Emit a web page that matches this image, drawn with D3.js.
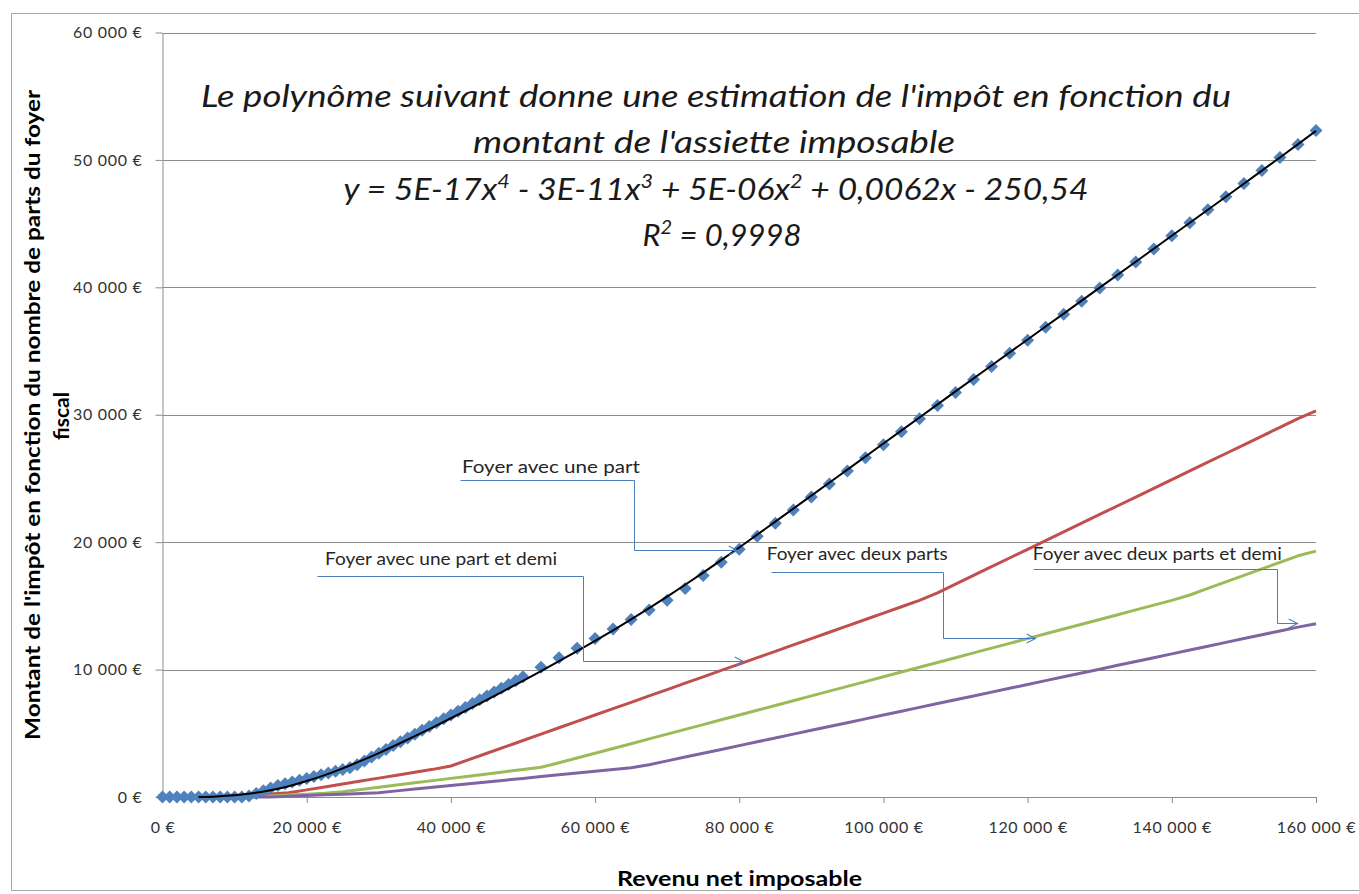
<!DOCTYPE html>
<html>
<head>
<meta charset="utf-8">
<script src="https://cdn.jsdelivr.net/npm/d3@7"></script>
<style>
  body { margin: 0; background: #fff; }
  svg text { font-family: Lato, "Open Sans", sans-serif; }
</style>
</head>
<body>
<div id="container"></div>
<script>
// revenu net imposable (markers of the "une part" series)
const revenus = [0,1000,2000,3000,4000,5000,6000,7000,8000,9000,10000,11000,12000,13000,14000,15000,16000,17000,18000,19000,
  20000,21000,22000,23000,24000,25000,26000,27000,28000,29000,30000,31000,32000,33000,34000,35000,36000,37000,38000,39000,
  40000,41000,42000,43000,44000,45000,46000,47000,48000,49000,50000,
  52500,55000,57500,60000,62500,65000,67500,70000,72500,75000,77500,80000,82500,85000,87500,90000,92500,95000,97500,100000,
  102500,105000,107500,110000,112500,115000,117500,120000,122500,125000,127500,130000,132500,135000,137500,140000,142500,145000,
  147500,150000,152500,155000,157500,160000];
const impotUnePart = [0,0,0,0,0,0,0,0,0,0,0,0,73,282,492,702,901,1041,1181,1321,
  1461,1601,1741,1881,2021,2161,2301,2533,2833,3133,3433,3733,4033,4333,4633,4933,5233,5533,5833,6133,
  6433,6733,7033,7333,7633,7933,8233,8533,8833,9133,9433,
  10183,10933,11683,12433,13183,13933,14683,15433,16367,17392,18417,19442,20467,21492,22517,23542,24567,25592,26617,27642,
  28667,29692,30717,31742,32767,33792,34817,35842,36867,37892,38917,39942,40967,41992,43017,44042,45067,46092,
  47117,48142,49167,50192,51217,52300];

// polynomial trend line (black)
const revenusTendance = [5000,7500,10000,12500,15000,17500,20000,22500,25000,27500,30000,32500,35000,37500,40000,42500,45000,47500,50000,
  52500,55000,57500,60000,62500,65000,67500,70000,72500,75000,77500,80000,85000,90000,95000,100000,105000,110000,115000,120000,
  125000,130000,135000,140000,145000,150000,155000,160000];
const impotTendance = [0,40,130,290,530,850,1250,1720,2250,2830,3450,4100,4775,5470,6180,6900,7630,8370,9120,
  9880,10655,11445,12255,13085,13940,14820,15725,16655,17610,18585,19580,21610,23650,25695,27740,29785,31830,33870,35905,
  37940,39975,42010,44045,46085,48130,50185,52280];

// other households (lines)
const revenusParts = [0,2500,5000,7500,10000,12500,15000,17500,20000,22500,25000,27500,30000,32500,35000,37500,40000,42500,45000,47500,
  50000,52500,55000,57500,60000,62500,65000,67500,70000,72500,75000,77500,80000,82500,85000,87500,90000,92500,95000,97500,
  100000,102500,105000,107500,110000,112500,115000,117500,120000,122500,125000,127500,130000,132500,135000,137500,140000,142500,
  145000,147500,150000,152500,155000,157500,160000];
const impotUnePartEtDemi = [0,0,0,0,40,130,230,330,560,790,1020,1250,1480,1710,1940,2170,2433,2933,3433,3933,
  4433,4933,5433,5933,6433,6933,7433,7933,8433,8933,9433,9933,10433,10933,11433,11933,12433,12933,13433,13933,
  14433,14933,15433,16025,16708,17392,18075,18758,19442,20125,20808,21492,22175,22858,23542,24225,24908,25592,
  26275,26958,27642,28325,29008,29692,30300];
const impotDeuxParts = [0,0,0,0,0,16,85,153,222,291,411,586,761,936,1111,1286,1461,1636,1811,1986,
  2161,2336,2683,3058,3433,3808,4183,4558,4933,5308,5683,6058,6433,6808,7183,7558,7933,8308,8683,9058,
  9433,9808,10183,10558,10933,11308,11683,12058,12433,12808,13183,13558,13933,14308,14683,15058,15433,15854,
  16367,16879,17392,17904,18417,18929,19300];
const impotDeuxPartsEtDemi = [0,0,0,0,0,0,2,57,112,167,222,277,341,481,621,761,901,1041,1181,1321,
  1461,1601,1741,1881,2021,2161,2301,2533,2833,3133,3433,3733,4033,4333,4633,4933,5233,5533,5833,6133,
  6433,6733,7033,7333,7633,7933,8233,8533,8833,9133,9433,9733,10033,10333,10633,10933,11233,11533,
  11833,12133,12433,12733,13033,13333,13600];

const yTicks = [0,10000,20000,30000,40000,50000,60000];
const xTicks = [0,20000,40000,60000,80000,100000,120000,140000,160000];

const titre = [
  "Le polynôme suivant donne une estimation de l'impôt en fonction du",
  "montant de l'assiette imposable"
];
const yTitre = ["Montant de l'impôt en fonction du nombre de parts du foyer", "fiscal"];
const xTitre = "Revenu net imposable";

// callouts, in data units: text anchor, then the elbow path ending on the arrow tip
const callouts = [
  {label:"Foyer avec une part", at:[41540,25460], len:178,
   path:[[41260,24880],[65400,24880],[65400,19385],[79680,19385]]},
  {label:"Foyer avec une part et demi", at:[22540,18210], len:232,
   path:[[21430,17340],[58320,17340],[58320,10670],[80510,10670]]},
  {label:"Foyer avec deux parts", at:[83820,18600], len:181,
   path:[[84370,17660],[108240,17660],[108240,12480],[121000,12480]]},
  {label:"Foyer avec deux parts et demi", at:[120720,18600], len:249,
   path:[[120720,17890],[154570,17890],[154570,13660],[157340,13660]]}
];

const width = 1359, height = 894;
const svg = d3.select("#container")
  .append("svg")
    .attr("width", width)
    .attr("height", height);

const defs = svg.append("defs");
defs.append("marker")
    .attr("id", "fleche")
    .attr("viewBox", "0 0 10 10")
    .attr("refX", 9).attr("refY", 5)
    .attr("markerWidth", 11).attr("markerHeight", 11)
    .attr("markerUnits", "userSpaceOnUse")
    .attr("orient", "auto")
  .append("path")
    .attr("d", "M1,1L9,5L1,9")
    .attr("fill", "none")
    .attr("stroke", "#4A7EBB")
    .attr("stroke-width", 1);

// chart area border
svg.append("rect")
    .attr("x", 11.5).attr("y", 13.5)
    .attr("width", 1400).attr("height", 877)
    .attr("fill", "none")
    .attr("stroke", "#a6a6a6");

const x = d3.scaleLinear().domain([0, 160000]).range([162.5, 1316]);
const y = d3.scaleLinear().domain([0, 60000]).range([797, 32.5]);

const euro = d3.formatLocale({decimal: ",", thousands: "\u00a0", grouping: [3], currency: ["", "\u00a0€"]}).format("$,.0f");

// gridlines
svg.append("g")
    .attr("stroke", "#8c8c8c")
    .attr("stroke-width", 1)
  .selectAll("line")
  .data(yTicks.slice(1))
  .join("line")
    .attr("x1", x(0)).attr("x2", x(160000))
    .attr("y1", d => Math.round(y(d)) + 0.5)
    .attr("y2", d => Math.round(y(d)) + 0.5);

const yAxis = svg.append("g")
    .attr("transform", "translate(" + x(0) + ",0)")
    .call(d3.axisLeft(y).tickValues(yTicks).tickSize(7).tickSizeOuter(0).tickPadding(13).tickFormat(euro));
const xAxis = svg.append("g")
    .attr("transform", "translate(0," + y(0) + ")")
    .call(d3.axisBottom(x).tickValues(xTicks).tickSize(6).tickSizeOuter(0).tickPadding(19).tickFormat(euro));
xAxis.selectAll(".tick line").filter(d => d === 0).remove();

[yAxis, xAxis].forEach(a => {
  a.select(".domain").attr("stroke", "#8c8c8c");
  a.selectAll(".tick line").attr("stroke", "#8c8c8c");
  a.selectAll(".tick text")
    .attr("fill", "#333")
    .style("font-size", "16px")
    .style("letter-spacing", "0.7px");
});

// household lines
const line = d3.line().x(d => x(d[0])).y(d => y(d[1]));
const series = [
  {values: impotUnePartEtDemi, color: "#C0504D"},
  {values: impotDeuxParts, color: "#9BBB59"},
  {values: impotDeuxPartsEtDemi, color: "#8064A2"}
];
svg.append("g")
    .attr("fill", "none")
    .attr("stroke-width", 3)
    .attr("stroke-linejoin", "round")
  .selectAll("path")
  .data(series)
  .join("path")
    .attr("stroke", d => d.color)
    .attr("d", d => line(revenusParts.map((r, i) => [r, d.values[i]])));

// une part: diamond markers
const r = 6.5;
svg.append("g")
    .attr("fill", "#4F81BD")
  .selectAll("path")
  .data(revenus.map((v, i) => [v, impotUnePart[i]]))
  .join("path")
    .attr("transform", d => "translate(" + x(d[0]) + "," + y(d[1]) + ")")
    .attr("d", "M0," + (-r) + "L" + r + ",0L0," + r + "L" + (-r) + ",0Z");

// trend
svg.append("path")
    .attr("fill", "none")
    .attr("stroke", "#000")
    .attr("stroke-width", 2)
    .attr("d", d3.line().curve(d3.curveMonotoneX).x(d => x(d[0])).y(d => y(d[1]))(revenusTendance.map((v, i) => [v, impotTendance[i]])));

// title (trend label)
const t = svg.append("g")
    .attr("fill", "#1a1a1a")
    .style("font-style", "italic")
    .style("font-size", "31px")
    .attr("text-anchor", "middle");
t.append("text").attr("x", 716).attr("y", 107).attr("textLength", 1030).attr("lengthAdjust", "spacingAndGlyphs").text(titre[0]);
t.append("text").attr("x", 714).attr("y", 153).attr("textLength", 482).attr("lengthAdjust", "spacingAndGlyphs").text(titre[1]);
const eq = t.append("text").attr("x", 716).attr("y", 200).attr("textLength", 745).attr("lengthAdjust", "spacingAndGlyphs");
[["y = 5E-17x", false], ["4", true], [" - 3E-11x", false], ["3", true], [" + 5E-06x", false], ["2", true], [" + 0,0062x - 250,54", false]]
  .forEach(p => {
    const s = eq.append("tspan").text(p[0]);
    if (p[1]) s.attr("baseline-shift", "super").style("font-size", "20px");
  });
const r2 = t.append("text").attr("x", 722).attr("y", 246);
r2.append("tspan").text("R");
r2.append("tspan").attr("baseline-shift", "super").style("font-size", "20px").text("2");
r2.append("tspan").text(" = 0,9998");

// axis titles
svg.append("text")
    .attr("transform", "translate(40,415) rotate(-90)")
    .attr("text-anchor", "middle")
    .attr("textLength", 650).attr("lengthAdjust", "spacingAndGlyphs")
    .style("font-size", "21px").style("font-weight", "bold")
    .text(yTitre[0]);
svg.append("text")
    .attr("transform", "translate(69,416) rotate(-90)")
    .attr("text-anchor", "middle")
    .style("font-size", "21px").style("font-weight", "bold")
    .text(yTitre[1]);
svg.append("text")
    .attr("x", 739.5).attr("y", 886)
    .attr("text-anchor", "middle")
    .attr("textLength", 245).attr("lengthAdjust", "spacingAndGlyphs")
    .style("font-size", "20px").style("font-weight", "bold")
    .text(xTitre);

// callouts
const c = svg.append("g");
c.selectAll("path")
  .data(callouts)
  .join("path")
    .attr("fill", "none")
    .attr("stroke", "#4A7EBB")
    .attr("stroke-width", 1)
    .attr("marker-end", "url(#fleche)")
    .attr("d", d => "M" + d.path.map(p => [Math.round(x(p[0])) + 0.5, Math.round(y(p[1])) + 0.5].join(",")).join("L"));
c.selectAll("text")
  .data(callouts)
  .join("text")
    .attr("x", d => x(d.at[0]))
    .attr("y", d => y(d.at[1]))
    .attr("textLength", d => d.len).attr("lengthAdjust", "spacingAndGlyphs")
    .attr("fill", "#262626")
    .style("font-size", "17px")
    .text(d => d.label);
</script>
</body>
</html>
